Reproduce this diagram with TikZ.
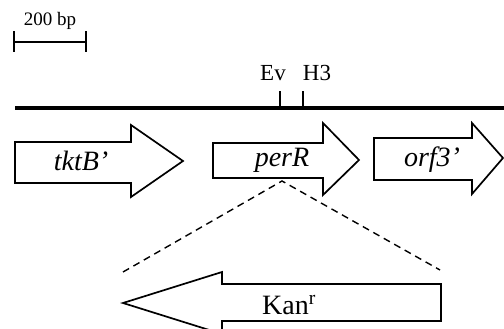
\documentclass[tikz,border=0pt]{standalone}
\usepackage{fontspec}
\setmainfont{Liberation Serif}
\begin{document}
\begin{tikzpicture}[x=1pt,y=-1pt,
  gene/.style={draw, line width=1.7pt, line join=miter, fill=white},
  mapline/.style={line width=3.2pt},
  tick/.style={line width=1.3pt},
  bar/.style={line width=1.5pt},
  insert/.style={line width=1.4pt, dash pattern=on 7pt off 5pt},
  genelabel/.style={anchor=base, inner sep=0pt, font=\fontsize{28}{30}\selectfont\itshape},
  sitelabel/.style={anchor=base, inner sep=0pt, font=\fontsize{23}{25}\selectfont},
  scalelabel/.style={anchor=base, inner sep=0pt, font=\fontsize{19}{21}\selectfont}]
\clip (0,0) rectangle (504,329);

% scale bar
\coordinate (sbL) at (14,42);
\coordinate (sbR) at (86,42);
\draw[bar] (sbL) -- (sbR);
\draw[bar] ([yshift=-10pt]sbL) -- ([yshift=11pt]sbL);
\draw[bar] ([yshift=-10pt]sbR) -- ([yshift=11pt]sbR);
\node[scalelabel] (sbtext) at (50,26) {200 bp};

% chromosome line with restriction sites
\coordinate (chrL) at (15,108);
\coordinate (chrR) at (504,108);
\draw[mapline] (chrL) -- (chrR);
\coordinate (ev) at (280,108);
\coordinate (h3) at (303,108);
\draw[tick] (ev) -- ++(0,-17);
\draw[tick] (h3) -- ++(0,-17);
\node[sitelabel] (evtext) at (273,81) {Ev};
\node[sitelabel] (h3text) at (317,81) {H3};

% genes
\draw[gene] (15,142) -- (131,142) -- (131,125) -- (183,161) -- (131,197) -- (131,183) -- (15,183) -- cycle;
\node[genelabel] (tktB) at (81,170) {tktB’};

\draw[gene] (213,143) -- (323,143) -- (323,123) -- (359,160) -- (323,195) -- (323,178) -- (213,178) -- cycle;
\node[genelabel] (perR) at (282,166) {perR};

\draw[gene] (374,138) -- (472,138) -- (472,123) -- (503,158) -- (472,194) -- (472,180) -- (374,180) -- cycle;
\node[genelabel] (orf3) at (432,167) {orf3’};

% insertion of the kanamycin cassette into perR
\coordinate (apex) at (282,181);
\coordinate (insL) at (123,272);
\coordinate (insR) at (440,270);
\draw[insert] (insL) -- (apex) -- (insR);

\draw[gene] (441,284) -- (222,284) -- (222,272) -- (123,303) -- (222,334) -- (222,321) -- (441,321) -- cycle;
\node[anchor=base west, inner sep=0pt, font=\fontsize{28}{30}\selectfont] (kan) at (262,314) {Kan\textsuperscript{r}};
\end{tikzpicture}
\end{document}
